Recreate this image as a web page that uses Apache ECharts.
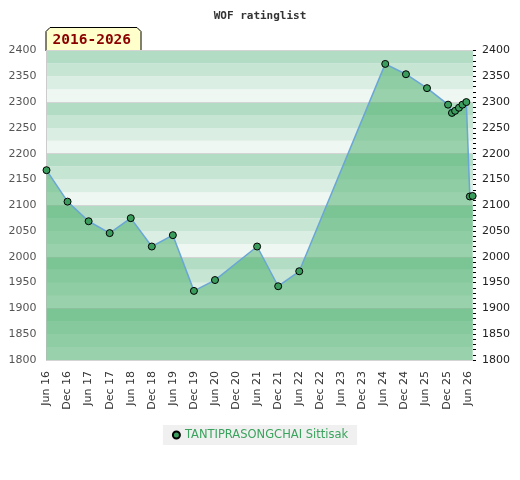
<!DOCTYPE html>
<html>
<head>
<meta charset="utf-8">
<script src="https://cdn.jsdelivr.net/npm/echarts@6/dist/echarts.min.js"></script>
<style>
  html, body { margin: 0; padding: 0; background: #fff; }
  #chart { width: 520px; height: 480px; }
</style>
</head>
<body>
<div id="chart"></div>
<script>
const chartTitle = "WOF ratinglist";
const periodLabel = "2016-2026";
const playerName = "TANTIPRASONGCHAI Sittisak";

// x ticks every 6 months, counted from Jun 2016
const tickLabels = [
  "Jun 16", "Dec 16", "Jun 17", "Dec 17", "Jun 18", "Dec 18", "Jun 19",
  "Dec 19", "Jun 20", "Dec 20", "Jun 21", "Dec 21", "Jun 22", "Dec 22",
  "Jun 23", "Dec 23", "Jun 24", "Dec 24", "Jun 25", "Dec 25", "Jun 26"
];

// months since Jun 2016 and the rating at that point
const months = [0, 6, 12, 18, 24, 30, 36, 42, 48, 60, 66, 72, 96.5, 102.4, 108.4, 114.4, 115.5, 116.4, 117.5, 118.5, 119.6, 120.6, 121.4];
const ratings = [2168, 2107, 2069, 2046, 2075, 2020, 2042, 1934, 1955, 2020, 1943, 1972, 2374, 2354, 2327, 2295, 2279, 2283, 2289, 2295, 2300, 2117, 2118];

// background band colours from the bottom of each 100 block upward
const bandColors = ["#eef7f2", "#dbeee3", "#c6e5d3", "#b2dcc3"];

const yMin = 1800;
const yMax = 2400;
const xMax = 121.5;

const chart = echarts.init(document.getElementById("chart"));

const points = months.map((m, i) => [m, ratings[i]]);

const hiddenAxis = {
  min: yMin,
  max: yMax,
  axisLine: { show: false },
  axisTick: { show: false },
  axisLabel: { show: false },
  splitLine: { show: false }
};

chart.setOption({
  animation: false,
  title: {
    text: chartTitle,
    left: "center",
    top: 6,
    textStyle: {
      fontFamily: "DejaVu Sans Mono",
      fontSize: 11,
      fontWeight: "bold",
      color: "#333"
    }
  },
  legend: {
    bottom: 35,
    left: "center",
    backgroundColor: "#f0f0f0",
    padding: [4, 9, 4, 9],
    itemWidth: 7,
    itemHeight: 7,
    itemGap: 6,
    icon: "circle",
    textStyle: { fontFamily: "DejaVu Sans", fontSize: 11.5, color: "#3aa35d" },
    data: [playerName]
  },
  grid: { left: 46.5, right: 47, top: 50.5, bottom: 120 },
  xAxis: {
    type: "value",
    min: 0,
    max: xMax,
    interval: 6,
    axisLine: { show: true, lineStyle: { color: "#cccccc" } },
    axisTick: { show: false },
    splitLine: { show: false },
    axisLabel: {
      rotate: 90,
      margin: 11,
      showMaxLabel: false,
      fontFamily: "DejaVu Sans",
      fontSize: 11,
      color: "#333",
      formatter: (v) => tickLabels[Math.round(v / 6)] || ""
    }
  },
  yAxis: [
    {
      type: "value",
      position: "left",
      min: yMin,
      max: yMax,
      interval: 50,
      axisLine: { show: true, lineStyle: { color: "#cccccc" } },
      axisTick: { show: false },
      splitLine: { show: false },
      axisLabel: { margin: 10, fontFamily: "DejaVu Sans", fontSize: 11, color: "#555", formatter: (v) => String(v) },
      z: 3
    },
    {
      type: "value",
      position: "right",
      min: yMin,
      max: yMax,
      interval: 50,
      axisLine: { show: false },
      axisTick: { show: true, length: 3, lineStyle: { color: "#000" } },
      minorTick: { show: true, splitNumber: 5, length: 3, lineStyle: { color: "#000" } },
      splitLine: { show: false },
      axisLabel: { margin: 9, fontFamily: "DejaVu Sans", fontSize: 11, color: "#222", formatter: (v) => String(v) },
      z: 3
    },
    Object.assign({}, hiddenAxis, {
      type: "value",
      interval: 25,
      splitArea: { show: true, areaStyle: { color: bandColors } },
      z: 0
    }),
    Object.assign({}, hiddenAxis, {
      type: "value",
      interval: 100,
      splitLine: { show: true, lineStyle: { color: "#d4d4d4", width: 1 } },
      z: 1
    })
  ],
  graphic: [
    {
      type: "group",
      left: 45.5,
      top: 27,
      children: [
        {
          type: "polygon",
          shape: { points: [[0, 4], [4, 0], [91, 0], [95, 4], [95, 23.5], [0, 23.5]] },
          style: { fill: "#ffffcc", stroke: "#000", lineWidth: 1 }
        },
        {
          type: "text",
          x: 6.5,
          y: 13,
          style: {
            text: periodLabel,
            fontFamily: "DejaVu Sans Mono",
            fontSize: 14.5,
            fontWeight: "bold",
            fill: "#8b0000",
            verticalAlign: "middle"
          }
        }
      ]
    }
  ],
  series: [
    {
      name: playerName,
      type: "line",
      data: points,
      yAxisIndex: 0,
      symbol: "circle",
      symbolSize: 7,
      clip: false,
      z: 5,
      itemStyle: { color: "#3a9d5d", borderColor: "#000", borderWidth: 1 },
      lineStyle: { color: "#6aa6d6", width: 1.5 },
      areaStyle: { color: "rgb(73,175,105)", opacity: 0.52, origin: "start" }
    }
  ]
});
</script>
</body>
</html>
